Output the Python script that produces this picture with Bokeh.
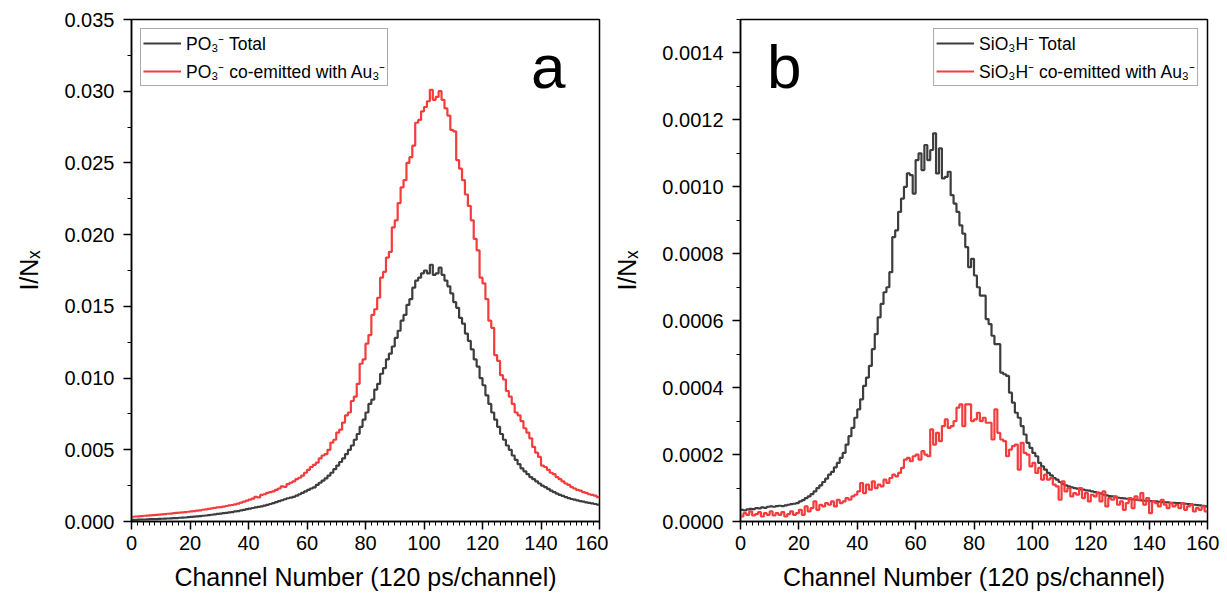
from bokeh.plotting import figure
from bokeh.layouts import row
from bokeh.models import Range1d, FixedTicker, PrintfTickFormatter, Label, Legend
from bokeh.embed import file_html
from bokeh.resources import INLINE

# ---------------- data ----------------
channels = list(range(0, 161))  # bin edges 0..160 (120 ps/channel)

# Panel a, values in units of 1e-3
a_total_e3 = [
    0.12, 0.12, 0.13, 0.14, 0.14, 0.15, 0.16, 0.17, 0.17, 0.18,
    0.19, 0.20, 0.21, 0.22, 0.23, 0.24, 0.26, 0.27, 0.28, 0.30,
    0.32, 0.34, 0.36, 0.38, 0.40, 0.42, 0.44, 0.47, 0.50, 0.53,
    0.55, 0.58, 0.60, 0.63, 0.66, 0.70, 0.73, 0.77, 0.81, 0.86,
    0.90, 0.94, 0.98, 1.02, 1.06, 1.10, 1.16, 1.22, 1.28, 1.35,
    1.42, 1.48, 1.55, 1.62, 1.66, 1.72, 1.80, 1.90, 2.00, 2.10,
    2.20, 2.30, 2.38, 2.55, 2.70, 2.85, 3.00, 3.20, 3.40, 3.65,
    3.90, 4.15, 4.40, 4.70, 5.00, 5.30, 5.70, 6.10, 6.60, 7.10,
    7.60, 8.20, 8.50, 9.20, 9.60, 10.3, 10.7, 11.3, 11.7, 12.2,
    12.8, 13.3, 14.0, 14.4, 15.1, 15.5, 16.3, 16.8, 17.0, 17.3,
    17.5, 17.3, 17.9, 17.2, 17.3, 17.7, 17.2, 16.8, 16.4, 15.9,
    15.3, 14.9, 14.2, 13.8, 13.1, 12.6, 12.0, 11.3, 10.8, 10.0,
    9.5, 8.8, 8.2, 7.6, 7.1, 6.6, 6.1, 5.7, 5.3, 5.0,
    4.6, 4.3, 4.0, 3.7, 3.5, 3.3, 3.1, 2.95, 2.8, 2.65,
    2.5, 2.4, 2.28, 2.15, 2.05, 1.95, 1.85, 1.78, 1.7, 1.63,
    1.57, 1.52, 1.47, 1.42, 1.38, 1.34, 1.3, 1.26, 1.22, 1.18,
]
a_coemit_e3 = [
    0.33, 0.35, 0.36, 0.38, 0.40, 0.41, 0.43, 0.45, 0.46, 0.48,
    0.50, 0.52, 0.54, 0.55, 0.58, 0.60, 0.62, 0.64, 0.66, 0.68,
    0.70, 0.72, 0.76, 0.78, 0.82, 0.85, 0.88, 0.92, 0.95, 0.98,
    1.00, 1.04, 1.08, 1.12, 1.15, 1.20, 1.25, 1.32, 1.38, 1.45,
    1.52, 1.60, 1.72, 1.68, 1.85, 1.90, 2.00, 2.05, 2.10, 2.20,
    2.30, 2.45, 2.42, 2.60, 2.70, 2.80, 2.95, 3.05, 3.20, 3.40,
    3.60, 3.80, 3.95, 4.10, 4.40, 4.60, 4.70, 5.00, 5.50, 5.70,
    6.20, 6.40, 6.90, 7.40, 7.60, 8.40, 8.70, 9.60, 11.0, 11.3,
    12.4, 13.0, 14.4, 14.8, 15.6, 17.0, 17.4, 18.4, 18.8, 20.5,
    21.0, 22.2, 23.3, 23.8, 25.0, 25.4, 26.2, 27.8, 28.0, 28.6,
    28.9, 29.3, 30.1, 29.4, 29.6, 30.0, 29.4, 28.8, 28.3, 27.3,
    27.2, 25.2, 24.6, 23.8, 22.8, 22.0, 21.0, 19.7, 18.9, 17.0,
    16.6, 15.5, 14.0, 13.5, 11.6, 11.2, 10.2, 9.9, 9.1, 8.7,
    8.2, 7.6, 7.4, 7.0, 6.5, 6.2, 5.8, 5.2, 4.8, 4.5,
    3.9, 3.8, 3.6, 3.4, 3.3, 3.1, 2.95, 2.8, 2.65, 2.55,
    2.4, 2.3, 2.2, 2.15, 2.05, 2.0, 1.9, 1.85, 1.8, 1.7,
]

# Panel b, values in units of 1e-6
b_total_e6 = [
    35, 33, 36, 38, 37, 40, 39, 42, 41, 44,
    45, 44, 46, 47, 46, 48, 50, 52, 53, 55,
    60, 64, 70, 75, 82, 90, 100, 108, 118, 128,
    140, 148, 162, 175, 190, 205, 230, 255, 280, 310,
    335, 365, 405, 430, 465, 515, 560, 610, 650, 685,
    700, 745, 850, 870, 925, 965, 1000, 1040, 1035, 980,
    1080, 1100, 1050, 1125, 1080, 1110, 1160, 1040, 1115, 1025,
    1030, 1045, 975, 950, 925, 885, 860, 820, 760, 785,
    735, 700, 675, 675, 605, 590, 555, 530, 530, 445,
    440, 435, 385, 355, 325, 310, 285, 260, 235, 220,
    205, 195, 175, 165, 155, 145, 138, 130, 125, 118,
    112, 108, 105, 102, 100, 98, 96, 95, 93, 92,
    90, 88, 86, 84, 80, 78, 76, 75, 73, 71,
    70, 69, 68, 67, 66, 65, 64, 63, 62, 62,
    61, 60, 60, 59, 58, 57, 57, 56, 56, 55,
    55, 54, 53, 52, 51, 50, 49, 48, 47, 45,
]
b_coemit_e6 = [
    15, 25, 20, 30, 18, 22, 28, 15, 25, 20,
    30, 18, 25, 20, 28, 15, 22, 30, 20, 25,
    35, 20, 45, 30, 40, 60, 35, 50, 45, 55,
    50, 60, 45, 65, 55, 60, 70, 65, 75, 80,
    90, 115, 85, 110, 95, 120, 100, 110, 105, 125,
    115, 130, 140, 135, 145, 160, 185, 190, 180, 195,
    200, 185, 210, 200, 195, 275, 230, 265, 240, 285,
    305, 280, 285, 300, 340, 350, 285, 350, 350, 300,
    305, 325, 300, 310, 295, 295, 245, 335, 265, 245,
    240, 195, 215, 225, 230, 155, 235, 205, 200, 165,
    175, 145, 160, 125, 140, 125, 130, 110, 105, 65,
    120, 90, 100, 75, 85, 80, 100, 70, 85, 60,
    80, 75, 85, 60, 90, 45, 70, 65, 75, 50,
    60, 35, 55, 70, 40, 75, 65, 85, 50, 70,
    25, 60, 55, 45, 65, 50, 40, 55, 45, 50,
    40, 55, 35, 45, 50, 30, 40, 35, 45, 30,
]

x_ticks = [0, 20, 40, 60, 80, 100, 120, 140, 160]
x_minor = list(range(0, 161, 2))
a_y_ticks = [0.000, 0.005, 0.010, 0.015, 0.020, 0.025, 0.030, 0.035]
a_y_minor = [i * 0.0025 for i in range(15)]
b_y_ticks = [0.0, 0.0002, 0.0004, 0.0006, 0.0008, 0.0010, 0.0012, 0.0014]
b_y_minor = [i * 0.0001 for i in range(16)]

a_labels = ["PO\u2083\u207b Total", "PO\u2083\u207b co-emitted with Au\u2083\u207b"]
b_labels = ["SiO\u2083H\u207b Total", "SiO\u2083H\u207b co-emitted with Au\u2083\u207b"]

x_title = "Channel Number (120 ps/channel)"
y_title = "I/N\u2093"

# ---------------- style ----------------
FONT = "Liberation Sans"
BLACK = "#3d3d3d"
RED = "#f43c3c"


def steps(vals, scale):
    ys = [v * scale for v in vals]
    return ys + [ys[-1]]


def make_fig(width, left, right, yr, yticks, yminor, fmt):
    p = figure(width=width, height=597, output_backend="svg", toolbar_location=None,
               x_range=Range1d(0, 160), y_range=Range1d(*yr),
               min_border_left=left, min_border_right=right,
               min_border_top=19, min_border_bottom=76)
    p.grid.visible = False
    p.outline_line_color = "black"
    p.outline_line_width = 1.5
    p.background_fill_color = "white"
    p.border_fill_color = "white"
    p.xaxis.ticker = FixedTicker(ticks=x_ticks, minor_ticks=x_minor)
    p.yaxis.ticker = FixedTicker(ticks=yticks, minor_ticks=yminor)
    p.yaxis.formatter = PrintfTickFormatter(format=fmt)
    for ax in (p.xaxis[0], p.yaxis[0]):
        ax.axis_line_width = 1.5
        ax.axis_line_color = "black"
        ax.major_tick_line_width = 1.5
        ax.minor_tick_line_width = 1
        ax.major_tick_in = 0
        ax.major_tick_out = 8
        ax.minor_tick_in = 0
        ax.minor_tick_out = 4
        ax.major_label_text_font = FONT
        ax.major_label_text_font_size = "20px"
        ax.major_label_text_color = "black"
        ax.axis_label_text_font = FONT
        ax.axis_label_text_font_size = "25px"
        ax.axis_label_text_font_style = "normal"
        ax.axis_label_text_color = "black"
    p.xaxis.axis_label = x_title
    p.yaxis.axis_label = y_title
    p.xaxis.major_label_standoff = 6
    p.xaxis.axis_label_standoff = 10
    p.yaxis.major_label_standoff = 9
    p.yaxis.axis_label_standoff = 18
    return p


def add_legend(p, rends, labels, loc):
    leg = Legend(items=[(labels[0], [rends[0]]), (labels[1], [rends[1]])], location=loc)
    leg.label_text_font = FONT
    leg.label_text_font_size = "17.5px"
    leg.label_text_color = "black"
    leg.glyph_width = 38
    leg.glyph_height = 20
    leg.label_height = 20
    leg.label_standoff = 5
    leg.spacing = 4
    leg.padding = 2
    leg.margin = 9
    leg.border_line_color = "#555555"
    leg.border_line_width = 1
    leg.background_fill_alpha = 1
    p.add_layout(leg)


# Panel a
pa = make_fig(608, 131, 9, (0, 0.035), a_y_ticks, a_y_minor, "%.3f")
ra1 = pa.step(channels, steps(a_total_e3, 1e-3), mode="after", line_width=2.2, color=BLACK)
ra2 = pa.step(channels, steps(a_coemit_e3, 1e-3), mode="after", line_width=2.2, color=RED)
add_legend(pa, [ra1, ra2], a_labels, "top_left")
pa.add_layout(Label(x=142.5, y=0.0293, text="a", text_font=FONT, text_font_size="62px",
                    text_align="center", text_baseline="bottom", text_color="black"))

# Panel b
pb = make_fig(611, 132, 12, (0, 0.0015), b_y_ticks, b_y_minor, "%.4f")
rb1 = pb.step(channels, steps(b_total_e6, 1e-6), mode="after", line_width=2.2, color=BLACK)
rb2 = pb.step(channels, steps(b_coemit_e6, 1e-6), mode="after", line_width=2.2, color=RED)
add_legend(pb, [rb1, rb2], b_labels, "top_right")
pb.add_layout(Label(x=15, y=0.001255, text="b", text_font=FONT, text_font_size="62px",
                    text_align="center", text_baseline="bottom", text_color="black"))

layout = row(pa, pb)
open("out.html", "w").write(file_html(layout, INLINE))
